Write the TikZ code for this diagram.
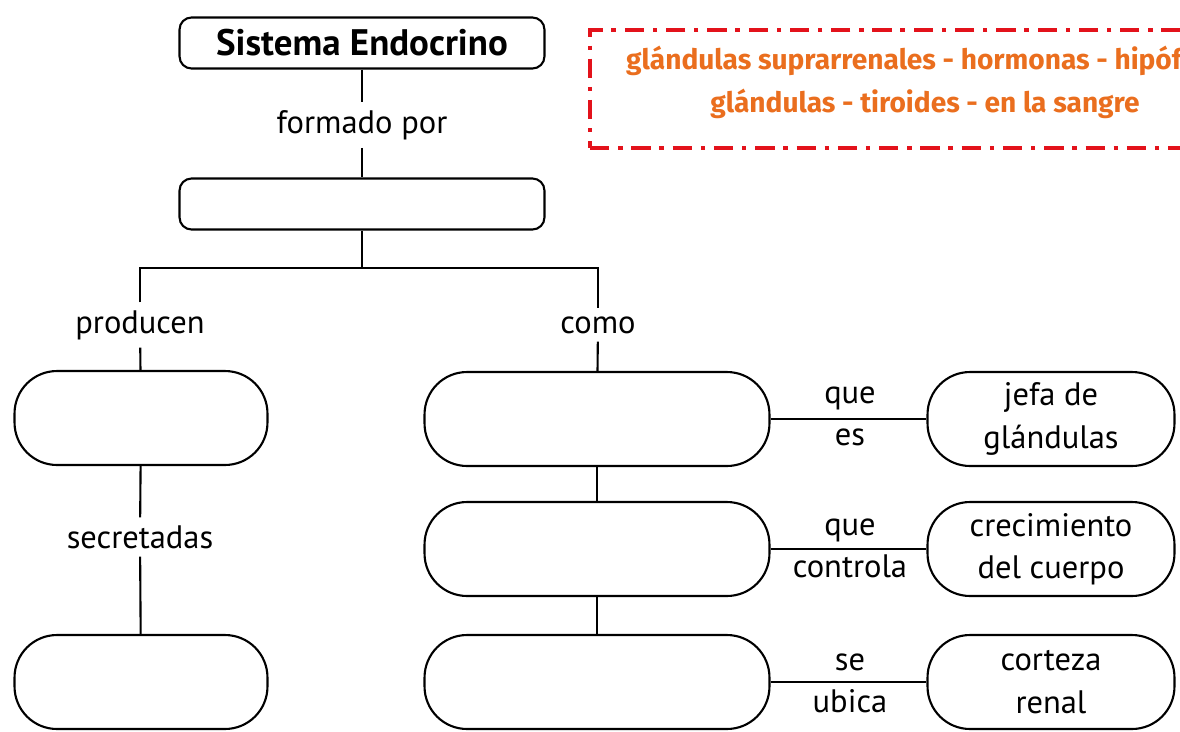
\documentclass[tikz,border=0pt]{standalone}
\usepackage{fontspec}
\setmainfont{PT Sans}
\newfontfamily\notefont{Fira Sans}
\usepackage{xcolor}
\definecolor{notered}{HTML}{E3121B}
\definecolor{noteorange}{HTML}{EA6E1E}

\begin{document}
\begin{tikzpicture}[x=0.02cm, y=-0.02cm, line width=1.2pt,
		word/.style = {font=\fontsize{18.5}{24}\selectfont, align=center, inner sep=4pt},
		topbox/.style = {draw, rounded corners=0.24cm, minimum width=7.3cm, minimum height=1.02cm},
		pill/.style = {draw, rounded corners=0.85cm, minimum height=1.88cm, align=center,
			font=\fontsize{18.5}{24}\selectfont}]
		\useasboundingbox (0,0) rectangle (1180,731);
		% word bank, cut by the right edge
		\begin{scope}
			\clip (0,0) rectangle (1180,731);
			\node[draw=notered, line width=2.2pt, dash pattern=on 11pt off 5pt on 2.5pt off 5pt,
				minimum width=13.4cm, minimum height=2.36cm] (bank) at (925,89) {};
			\node[text=noteorange, align=center, font=\notefont\bfseries\fontsize{16}{24.5}\selectfont]
				(banktext) at (925,82)
				{glándulas suprarrenales - hormonas - hipófisis\\glándulas - tiroides - en la sangre};
		\end{scope}
		\begin{scope}
			\node[topbox, font=\bfseries\fontsize{21}{25}\selectfont] (sis) at (362,43) {Sistema Endocrino};
			\node[topbox] (glan) at (362,204) {};
			\node[pill, minimum width=5.06cm] (prod1) at (141,418) {};
			\node[pill, minimum width=5.06cm] (prod2) at (141,682) {};
			\node[pill, minimum width=6.9cm] (ej1) at (597,419) {};
			\node[pill, minimum width=6.9cm] (ej2) at (597,549) {};
			\node[pill, minimum width=6.9cm] (ej3) at (597,682) {};
			\node[pill, minimum width=4.94cm] (fn1) at (1051,419) {jefa de\\glándulas};
			\node[pill, minimum width=4.94cm] (fn2) at (1051,549) {crecimiento\\del cuerpo};
			\node[pill, minimum width=4.94cm] (fn3) at (1051,682) {corteza\\renal};
		\end{scope}
		\begin{scope}[every node/.style = {word}]
			\node (formado) at (362,125) {formado por};
			\node (producen) at (140,325) {producen};
			\node (como) at (598,325) {como};
			\node (secretadas) at (140,537) {secretadas};
			\coordinate (split) at (362,268);
		\end{scope}
		\begin{scope}
			\path (sis) edge (formado);
			\path (formado) edge (glan);
			\path (glan) edge (split);
			\draw (producen) |- (split) -| (como);
			\path (producen) edge (prod1);
			\path (prod1) edge (secretadas);
			\path (secretadas) edge (prod2);
			\path (como) edge (ej1);
			\path (ej1) edge (ej2);
			\path (ej2) edge (ej3);
			\path (ej1) edge (fn1);
			\path (ej2) edge (fn2);
			\path (ej3) edge (fn3);
		\end{scope}
		% labels on the links to the right
		\node[word] (es) at (850,416) {que\\es};
		\node[word] (controla) at (850,548) {que\\controla};
		\node[word] (ubica) at (850,683) {se\\ubica};
	\end{tikzpicture}
\end{document}
